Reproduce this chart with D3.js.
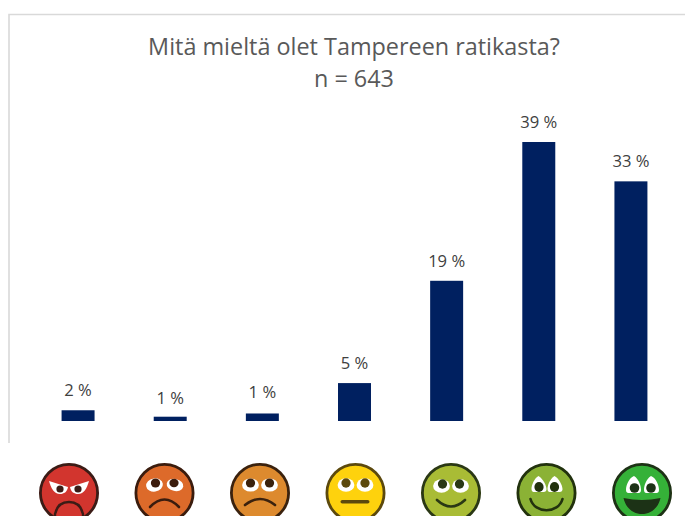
<!DOCTYPE html>
<html><head><meta charset="utf-8">
<style>html,body{margin:0;padding:0;background:#fff;overflow:hidden}svg{display:block}text{font-family:"Open Sans",sans-serif}</style>
<script src="https://cdn.jsdelivr.net/npm/d3@7/dist/d3.min.js"></script>
</head><body><svg id="c" width="685" height="516"><defs><filter id="soft"><feGaussianBlur stdDeviation="0.45"/></filter></defs></svg>
<script>
const categories = ["angry","sad","unhappy","neutral","content","happy","delighted"];
const values = [1.5,0.6,1.05,5.3,19.6,39,33.5];
const valueLabels = ["2 %","1 %","1 %","5 %","19 %","39 %","33 %"];
const labelGaps = [20,19,21,20,20,20,20];
const faceFill = ["#d2352e","#dd6b2b","#dd8a2e","#fed20f","#a9bc35","#8bb236","#36b139"];
const faceLine = ["#3b1a14","#3a1c10","#3a2210","#5c4a10","#2a3812","#20300f","#1f3012"];
const titleLines = ["Mitä mieltä olet Tampereen ratikasta?","n = 643"];

const svg = d3.select("#c");
const x = d3.scaleBand().domain(categories).range([32,677]).paddingInner(0.642).paddingOuter(0.321);
const y = d3.scaleLinear().domain([0,39]).range([421,142]);
const fx = d3.scalePoint().domain(categories).range([69,642]);

svg.append("path").attr("d","M9,443V14.5H685").attr("fill","none").attr("stroke","#d9d9d9").attr("stroke-width",1.6);

svg.selectAll("text.t").data(titleLines).join("text").attr("class","t")
 .attr("x",354).attr("y",(d,i)=>i?87:55).attr("text-anchor","middle")
 .attr("font-size",23.4).attr("fill","#595959").text(d=>d);

svg.selectAll("rect.b").data(categories).join("rect").attr("class","b")
 .attr("x",d=>x(d)).attr("width",x.bandwidth())
 .attr("y",(d,i)=>y(values[i])).attr("height",(d,i)=>y(0)-y(values[i]))
 .attr("fill","#002060");

svg.selectAll("text.l").data(categories).join("text").attr("class","l")
 .attr("x",d=>x(d)+x.bandwidth()/2).attr("y",(d,i)=>y(values[i])-labelGaps[i]+6)
 .attr("text-anchor","middle").attr("font-size",16.6).attr("fill","#404040")
 .text((d,i)=>valueLabels[i]);

const cy=493,R=28.6;
function eye(g,cx,ey,rx,ry,tilt,px,py,dark){
  g.append("ellipse").attr("cx",cx).attr("cy",ey).attr("rx",rx).attr("ry",ry)
   .attr("transform",`rotate(${tilt} ${cx} ${ey})`).attr("fill","#fff");
  g.append("ellipse").attr("cx",cx+px).attr("cy",ey+py).attr("rx",rx*0.55).attr("ry",ry*0.7).attr("fill",dark);
}
function stroke(g,d,col,w){g.append("path").attr("d",d).attr("fill","none").attr("stroke",col).attr("stroke-width",w).attr("stroke-linecap","round");}
categories.forEach((c,i)=>{
  const g=svg.append("g").attr("transform",`translate(${fx(c)},${cy})`).attr("filter","url(#soft)");
  const L=faceLine[i];
  g.append("circle").attr("r",R).attr("fill",faceFill[i]).attr("stroke",L).attr("stroke-width",2.8);
  if(c==="angry"){
    g.append("path").attr("d","M-20,-12L-1,-6C-2,-1,-5,1,-9,1C-15,1,-18,-5,-20,-12Z").attr("fill","#fff");
    g.append("path").attr("d","M20,-12L1,-6C2,-1,5,1,9,1C15,1,18,-5,20,-12Z").attr("fill","#fff");
    g.append("circle").attr("cx",-9).attr("cy",-4).attr("r",3.6).attr("fill",L);
    g.append("circle").attr("cx",9).attr("cy",-4).attr("r",3.6).attr("fill",L);
    g.append("path").attr("d","M-14,21C-12,12,-6,9,0,9C6,9,12,12,14,21L14,30H-14Z").attr("fill","#d2352e").attr("stroke",L).attr("stroke-width",2.4);
  } else if(c==="sad"){
    eye(g,-10,-8,8.4,6.6,-8,1,-2,L); eye(g,10.5,-8,8.4,6,12,-1,-2,L);
    stroke(g,"M-14.5,14Q0,-1,14.5,14",L,2.6);
  } else if(c==="unhappy"){
    eye(g,-9.5,-8,8.4,6.6,0,0,-2,L); eye(g,9.5,-8,8.4,6.6,0,0,-2,L);
    stroke(g,"M-15,12Q0,0,15,12",L,2.6);
  } else if(c==="neutral"){
    eye(g,-9.5,-8,8.4,6.8,0,0,-2,L); eye(g,9.5,-8,8.4,6.8,0,0,-2,L);
    g.append("rect").attr("x",-15).attr("y",7).attr("width",29).attr("height",3.6).attr("rx",1.8).attr("fill",L);
  } else if(c==="content"){
    eye(g,-9.5,-7,8.4,6.8,0,1,-2,L); eye(g,9.5,-7,8.4,6.8,0,-1,-2,L);
    stroke(g,"M-14,7Q0,20,14,7",L,2.6);
  } else if(c==="happy"){
    g.append("path").attr("d","M-8,-17C-3,-14,0,-7,0,-4C0,0,-4,-1,-8,-1C-12,-1,-15,0,-15,-4C-15,-8,-12,-15,-8,-17Z").attr("fill","#fff");
    g.append("path").attr("d","M8,-17C3,-14,1,-7,1,-4C1,0,4,-1,8,-1C12,-1,16,0,16,-4C16,-8,12,-15,8,-17Z").attr("fill","#fff");
    g.append("ellipse").attr("cx",-7.5).attr("cy",-6).attr("rx",4.6).attr("ry",5).attr("fill",L);
    g.append("ellipse").attr("cx",8).attr("cy",-6).attr("rx",4.6).attr("ry",5).attr("fill",L);
    stroke(g,"M-16,6C-12,21,12,21,16,6",L,2.6);
  } else {
    g.append("path").attr("d","M-8,-17C-3,-14,-1,-7,-1,-3C-1,1,-4,0,-8,0C-13,0,-16,1,-16,-3C-16,-8,-13,-15,-8,-17Z").attr("fill","#fff");
    g.append("path").attr("d","M9,-17C4,-14,2,-7,2,-3C2,1,5,0,9,0C14,0,17,1,17,-3C17,-8,14,-15,9,-17Z").attr("fill","#fff");
    g.append("ellipse").attr("cx",-7.5).attr("cy",-5).attr("rx",4.8).attr("ry",4.8).attr("fill",L);
    g.append("ellipse").attr("cx",9).attr("cy",-5).attr("rx",4.8).attr("ry",4.8).attr("fill",L);
    g.append("path").attr("d","M-18.5,5Q0,9,18.5,5C16,16,8,21,0,21C-8,21,-16,16,-18.5,5Z").attr("fill",L);
  }
});
</script></body></html>
